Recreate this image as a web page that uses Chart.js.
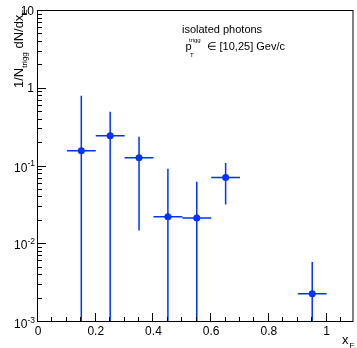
<!DOCTYPE html>
<html>
<head>
<meta charset="utf-8">
<script src="https://cdn.jsdelivr.net/npm/chart.js@4"></script>
<style>
  html, body { margin: 0; padding: 0; background: #fff; }
  canvas { display: block; }
</style>
</head>
<body>
<canvas id="grafico" width="357" height="348"></canvas>
<script>
// Dados
const xF = [0.15, 0.25, 0.35, 0.45, 0.55, 0.65, 0.95];
const xErr = [0.05, 0.05, 0.05, 0.05, 0.05, 0.05, 0.05];
const yVal = [0.155, 0.241, 0.126, 0.022, 0.0211, 0.0701, 0.00224];
const yHigh = [0.79, 0.49, 0.234, 0.0908, 0.0617, 0.108, 0.00574];
const yLow = [0, 0, 0.0146, 0, 0, 0.0315, 0];

const xTicks = [0, 0.2, 0.4, 0.6, 0.8, 1];
const xTickLabels = ["0", "0.2", "0.4", "0.6", "0.8", "1"];
const yTicks = [0.001, 0.01, 0.1, 1, 10];
const yTickLabels = [["10", "-3"], ["10", "-2"], ["10", "-1"], ["1", ""], ["10", ""]];

const blue = "#0033ff";
const fonte = "'Liberation Sans', Arial, sans-serif";

// Barras de erro (desenhadas antes dos pontos)
const barrasErro = {
  id: "barrasErro",
  beforeDatasetsDraw(chart) {
    const { ctx, chartArea: a, scales: { x, y } } = chart;
    ctx.save();
    ctx.beginPath();
    ctx.rect(a.left, a.top, a.right - a.left, a.bottom - a.top);
    ctx.clip();
    ctx.strokeStyle = blue;
    ctx.lineWidth = 1.5;
    xF.forEach((xv, i) => {
      const px = x.getPixelForValue(xv);
      const py = y.getPixelForValue(yVal[i]);
      const top = y.getPixelForValue(yHigh[i]);
      const bot = yLow[i] > 0 ? y.getPixelForValue(yLow[i]) : a.bottom;
      ctx.beginPath();
      ctx.moveTo(x.getPixelForValue(xv - xErr[i]), py);
      ctx.lineTo(x.getPixelForValue(xv + xErr[i]), py);
      ctx.moveTo(px, top);
      ctx.lineTo(px, bot);
      ctx.stroke();
    });
    ctx.restore();
  }
};

// Moldura, marcas e textos no estilo ROOT
const moldura = {
  id: "moldura",
  afterDraw(chart) {
    const { ctx, chartArea: a, scales: { x, y } } = chart;
    ctx.save();
    ctx.strokeStyle = "#000";
    ctx.lineWidth = 1;
    ctx.strokeRect(a.left - 0.5, a.top + 0.5, a.right - a.left, a.bottom - a.top);

    // marcas do eixo x
    ctx.beginPath();
    for (let k = 0; k <= 21; k++) {
      const v = k * 0.05;
      const px = Math.round(x.getPixelForValue(v)) - 0.5;
      const len = k % 4 === 0 ? 8 : 4;
      ctx.moveTo(px, a.bottom);
      ctx.lineTo(px, a.bottom - len);
    }
    // marcas do eixo y
    for (let d = -3; d < 1; d++) {
      for (let m = 1; m <= 9; m++) {
        const py = Math.round(y.getPixelForValue(m * Math.pow(10, d))) + 0.5;
        const len = m === 1 ? 8 : 4;
        ctx.moveTo(a.left, py);
        ctx.lineTo(a.left + len, py);
      }
    }
    ctx.stroke();

    // rótulos do eixo x
    ctx.fillStyle = "#000";
    ctx.font = "12px " + fonte;
    ctx.textAlign = "center";
    ctx.textBaseline = "alphabetic";
    xTicks.forEach((v, i) => {
      ctx.fillText(xTickLabels[i], x.getPixelForValue(v), a.bottom + 14);
    });

    // rótulos do eixo y
    yTicks.forEach((v, i) => {
      let py = y.getPixelForValue(v);
      const [base, exp] = yTickLabels[i];
      ctx.textAlign = "right";
      let right = 35;
      if (exp) {
        py += (i === 0 ? 2.5 : 1.5);
        ctx.font = "8.5px " + fonte;
        ctx.fillText(exp, right, py - 1);
        right -= ctx.measureText(exp).width;
      } else {
        right = 34;
      }
      ctx.font = "12px " + fonte;
      ctx.fillText(base, right, py + 4.5);
    });

    // título do eixo y (rotacionado)
    ctx.save();
    ctx.translate(23, 88);
    ctx.rotate(-Math.PI / 2);
    ctx.textAlign = "left";
    let cx = 0;
    const partes = [
      ["1/N", 13, 0], ["trigg", 8, 3.5], [" dN/dx", 13, 0], ["E", 8, 3.5]
    ];
    partes.forEach(([t, s, dy]) => {
      ctx.font = s + "px " + fonte;
      ctx.fillText(t, cx, dy);
      cx += ctx.measureText(t).width;
    });
    ctx.restore();

    // título do eixo x
    ctx.textAlign = "left";
    ctx.font = "13px " + fonte;
    ctx.fillText("x", 342, 344);
    ctx.font = "8px " + fonte;
    ctx.fillText("F", 349.5, 347.5);

    // anotação
    ctx.font = "11px " + fonte;
    ctx.fillText("isolated photons", 182, 33);
    ctx.fillText("p", 185.5, 50);
    ctx.font = "6px " + fonte;
    ctx.fillText("trigg", 189, 42);
    ctx.fillText("T", 190, 57);
    ctx.font = "11px " + fonte;
    ctx.fillText("\u2208 [10,25] Gev/c", 206.5, 50);

    ctx.restore();
  }
};

new Chart(document.getElementById("grafico"), {
  type: "scatter",
  data: {
    datasets: [{
      data: xF.map((v, i) => ({ x: v, y: yVal[i] })),
      backgroundColor: blue,
      borderColor: blue,
      pointRadius: 3.5,
      pointHoverRadius: 3.5,
      borderWidth: 0
    }]
  },
  options: {
    responsive: false,
    animation: false,
    events: [],
    layout: { padding: { top: 10, right: 2, left: 0, bottom: 0 } },
    plugins: { legend: { display: false }, tooltip: { enabled: false } },
    scales: {
      x: {
        type: "linear", min: 0, max: 1.093,
        grid: { display: false }, border: { display: false },
        ticks: { display: false },
        afterFit: (s) => { s.height = 27; }
      },
      y: {
        type: "logarithmic", min: 0.001, max: 10,
        grid: { display: false }, border: { display: false },
        ticks: { display: false },
        afterFit: (s) => { s.width = 38; }
      }
    }
  },
  plugins: [barrasErro, moldura]
});
</script>
</body>
</html>
